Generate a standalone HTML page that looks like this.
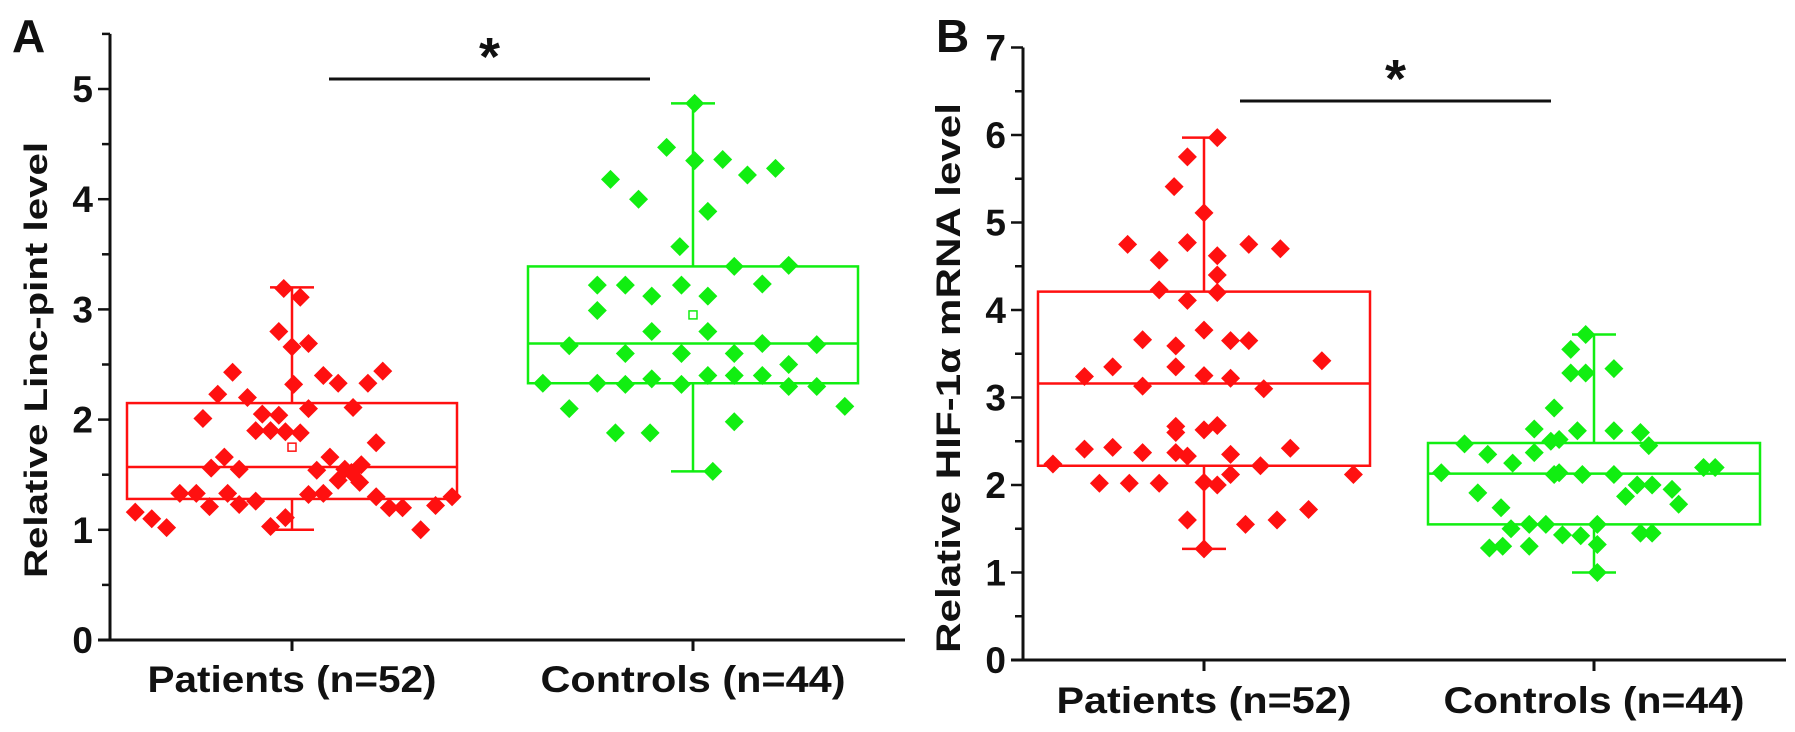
<!DOCTYPE html>
<html><head><meta charset="utf-8"><style>
html,body{margin:0;padding:0;background:#fff;width:1795px;height:732px;overflow:hidden}
svg{display:block}
text{font-family:"Liberation Sans",Arial,sans-serif;font-weight:bold;fill:#111}
</style></head><body>
<svg id="chart" width="1795" height="732" viewBox="0 0 1795 732"></svg>
<script>
// ---- Panel A data ----
const aCategories = ["Patients (n=52)", "Controls (n=44)"];
const aPatVals = [3.19,3.11,2.80,2.66,2.69,2.43,2.40,2.33,2.33,2.44,2.32,2.23,2.20,2.01,2.05,2.04,2.10,2.11,1.90,1.90,1.89,1.88,1.79,1.66,1.66,1.56,1.55,1.54,1.55,1.59,1.16,1.10,1.02,1.33,1.33,1.21,1.33,1.23,1.26,1.03,1.11,1.32,1.33,1.45,1.52,1.43,1.30,1.20,1.20,1.00,1.22,1.30];
const aPatJit = [-0.05,0.05,-0.08,0,0.10,-0.36,0.19,0.28,0.46,0.55,0.01,-0.45,-0.27,-0.54,-0.18,-0.08,0.10,0.37,-0.22,-0.13,-0.04,0.05,0.51,-0.41,0.23,-0.49,-0.32,0.15,0.32,0.42,-0.95,-0.85,-0.76,-0.68,-0.58,-0.50,-0.39,-0.32,-0.22,-0.13,-0.04,0.10,0.19,0.28,0.36,0.41,0.51,0.59,0.67,0.78,0.87,0.97];
const aCtlVals = [4.87,4.47,4.35,4.36,4.22,4.28,4.18,4.00,3.89,3.57,3.39,3.22,3.22,3.12,3.22,3.12,3.23,2.99,2.80,2.80,2.67,2.69,2.60,2.60,2.60,2.33,2.33,2.32,2.37,2.32,2.40,2.40,2.40,2.10,1.88,1.88,1.98,1.53,3.40,2.68,2.50,2.30,2.30,2.12];
const aCtlJit = [0.01,-0.16,0.01,0.18,0.33,0.50,-0.50,-0.33,0.09,-0.08,0.25,-0.58,-0.41,-0.25,-0.07,0.09,0.42,-0.58,-0.25,0.09,-0.75,0.42,-0.41,-0.07,0.25,-0.91,-0.58,-0.41,-0.25,-0.07,0.09,0.25,0.42,-0.75,-0.47,-0.26,0.25,0.12,0.58,0.75,0.58,0.58,0.75,0.92];
// [whiskerLow, q1, median, q3, whiskerHigh, mean]
const aPatStats = [1.00,1.28,1.57,2.15,3.20,1.75];
const aCtlStats = [1.53,2.33,2.69,3.39,4.87,2.95];
const aTicks = [0,1,2,3,4,5];
// ---- Panel B data ----
const bCategories = ["Patients (n=52)", "Controls (n=44)"];
const bPatVals = [5.75,5.41,5.11,4.75,4.77,4.57,4.23,4.11,3.77,3.66,3.59,3.35,3.35,3.24,3.25,3.13,2.67,2.63,2.41,2.43,2.37,2.37,2.24,2.02,2.02,2.02,2.03,5.97,4.62,4.40,4.75,4.70,4.20,3.65,3.22,3.10,3.42,2.68,2.35,2.42,2.12,2.22,2.00,1.55,1.60,1.72,2.12,1.27,1.60,2.33,3.65,2.60];
const bPatJit = [-0.10,-0.18,0,-0.46,-0.10,-0.27,-0.27,-0.10,0,-0.37,-0.17,-0.55,-0.17,-0.72,0,-0.37,-0.17,0,-0.72,-0.55,-0.37,-0.17,-0.91,-0.63,-0.45,-0.27,0,0.08,0.08,0.08,0.27,0.46,0.08,0.16,0.16,0.36,0.71,0.08,0.16,0.52,0.16,0.34,0.08,0.25,0.44,0.63,0.90,0,-0.10,-0.10,0.27,-0.17];
const bCtlVals = [2.64,2.47,2.52,2.35,2.37,2.25,2.14,2.14,1.91,3.28,1.74,3.55,3.72,3.33,3.28,2.88,2.62,2.62,2.60,2.50,2.45,2.12,2.12,2.12,2.00,2.00,1.95,2.20,2.20,1.78,1.87,1.55,1.42,1.32,1.45,1.45,1.43,1.55,1.55,1.50,1.30,1.30,1.28,1.00];
const bCtlJit = [-0.36,-0.78,-0.21,-0.64,-0.36,-0.49,-0.92,-0.21,-0.70,-0.14,-0.56,-0.14,-0.05,0.12,-0.05,-0.24,-0.10,0.12,0.28,-0.26,0.33,-0.24,-0.07,0.12,0.26,0.35,0.47,0.66,0.73,0.51,0.19,0.02,-0.08,0.02,0.28,0.35,-0.19,-0.29,-0.39,-0.50,-0.39,-0.55,-0.63,0.02];
const bPatStats = [1.27,2.22,3.16,4.21,5.97,null];
const bCtlStats = [1.00,1.55,2.13,2.48,3.72,null];
const bTicks = [0,1,2,3,4,5,6,7];

const NS="http://www.w3.org/2000/svg";
const svg=document.getElementById('chart');
function mk(tag,attrs,parent){const e=document.createElementNS(NS,tag);for(const k in attrs)e.setAttribute(k,attrs[k]);(parent||svg).appendChild(e);return e;}

function panel(cfg){
  const g=mk('g',{});
  
  
  const y=v=>cfg.y0-v*cfg.ppu;
  const x=(c,j)=>cfg.centers[c]+j*cfg.half;
  const L=mk('text',{x:cfg.letterX,y:52,'font-size':46},g);L.textContent=cfg.letter;
  
  
  const ya=mk('line',{x1:cfg.ax,y1:y(cfg.ymax),x2:cfg.ax,y2:cfg.y0+1.5,stroke:'#111','stroke-width':3},g);
  
  
  const xa=mk('line',{x1:cfg.ax-12,y1:cfg.y0,x2:cfg.axEnd,y2:cfg.y0,stroke:'#111','stroke-width':3},g);
  
  
  for(let v=0;v<=cfg.ymax+0.001;v+=0.5){
    const major=Math.abs(v-Math.round(v))<0.01;
    mk('line',{x1:cfg.ax-(major?12:8),y1:y(v),x2:cfg.ax,y2:y(v),stroke:'#111','stroke-width':2.5},g);
  }
  cfg.ticks.forEach(t=>{
    const tl=mk('text',{x:cfg.ax-17,y:y(t)+13,'font-size':37,'text-anchor':'end'},g);
    tl.textContent=t;
    
    
  });
  const yt=mk('text',{x:0,y:0,'font-size':cfg.ytSize,'text-anchor':'middle',textLength:cfg.ytLen,lengthAdjust:'spacingAndGlyphs',transform:`translate(${cfg.ytX},${cfg.ytY}) rotate(-90)`},g);
  yt.textContent=cfg.ytitle;
  
  
  cfg.cats.forEach((c,i)=>{
    mk('line',{x1:cfg.centers[i],y1:cfg.y0,x2:cfg.centers[i],y2:cfg.y0+11,stroke:'#111','stroke-width':3},g);
    const xl=mk('text',{x:cfg.centers[i],y:cfg.xlY,'font-size':37,'text-anchor':'middle',textLength:cfg.xlLen[i],lengthAdjust:'spacingAndGlyphs'},g);
    xl.textContent=c;
    
    
  });
  cfg.groups.forEach((grp,i)=>{
    const col=grp.color, s=grp.stats, cx=cfg.centers[i];
    const bg=mk('g',{},g);
    
    
    const sw=2.5;
    mk('rect',{x:cx-cfg.half,y:y(s[3]),width:2*cfg.half,height:y(s[1])-y(s[3]),fill:'none',stroke:col,'stroke-width':sw},bg);
    mk('line',{x1:cx-cfg.half,y1:y(s[2]),x2:cx+cfg.half,y2:y(s[2]),stroke:col,'stroke-width':sw},bg);
    mk('line',{x1:cx,y1:y(s[3]),x2:cx,y2:y(s[4]),stroke:col,'stroke-width':sw},bg);
    mk('line',{x1:cx,y1:y(s[1]),x2:cx,y2:y(s[0]),stroke:col,'stroke-width':sw},bg);
    mk('line',{x1:cx-22,y1:y(s[4]),x2:cx+22,y2:y(s[4]),stroke:col,'stroke-width':sw},bg);
    mk('line',{x1:cx-22,y1:y(s[0]),x2:cx+22,y2:y(s[0]),stroke:col,'stroke-width':sw},bg);
    if(s[5]!==null) mk('rect',{x:cx-4,y:y(s[5])-4,width:8,height:8,fill:'#fff',stroke:col,'stroke-width':1.5},bg);
    grp.vals.forEach((v,k)=>{
      const px=x(i,grp.jit[k]), py=y(v);
      const d=mk('path',{d:`M${px},${py-9.5}L${px+9.5},${py}L${px},${py+9.5}L${px-9.5},${py}Z`,fill:col},bg);
      
      
    });
  });
  const sb=mk('line',{x1:cfg.sig[0],y1:cfg.sig[2],x2:cfg.sig[1],y2:cfg.sig[2],stroke:'#111','stroke-width':3},g);
  
  
  const st=mk('text',{x:(cfg.sig[0]+cfg.sig[1])/2,y:cfg.sig[2]-4,'font-size':54,'text-anchor':'middle'},g);
  st.textContent='*';
  
  
}

panel({name:'panel-a',letter:'A',letterX:12,ax:110,axEnd:905,y0:640,ppu:110.2,ymax:5.5,ticks:aTicks,
  ytitle:'Relative Linc-pint level',ytX:47,ytY:360,ytSize:32,ytLen:436,
  cats:aCategories,centers:[292,693],half:165,xlY:692,xlLen:[289,305],
  sig:[329,650,79],
  groups:[{key:'patients',color:'#ff1010',vals:aPatVals,jit:aPatJit,stats:aPatStats},
          {key:'controls',color:'#11ee11',vals:aCtlVals,jit:aCtlJit,stats:aCtlStats}]});
panel({name:'panel-b',letter:'B',letterX:936,ax:1023,axEnd:1786,y0:660,ppu:87.5,ymax:7,ticks:bTicks,
  ytitle:'Relative HIF-1\u03b1 mRNA level',ytX:960,ytY:378,ytSize:34,ytLen:550,
  cats:bCategories,centers:[1204,1594],half:166,xlY:713,xlLen:[295,301],
  sig:[1240,1551,101],
  groups:[{key:'patients',color:'#ff1010',vals:bPatVals,jit:bPatJit,stats:bPatStats},
          {key:'controls',color:'#11ee11',vals:bCtlVals,jit:bCtlJit,stats:bCtlStats}]});
</script>
</body></html>
